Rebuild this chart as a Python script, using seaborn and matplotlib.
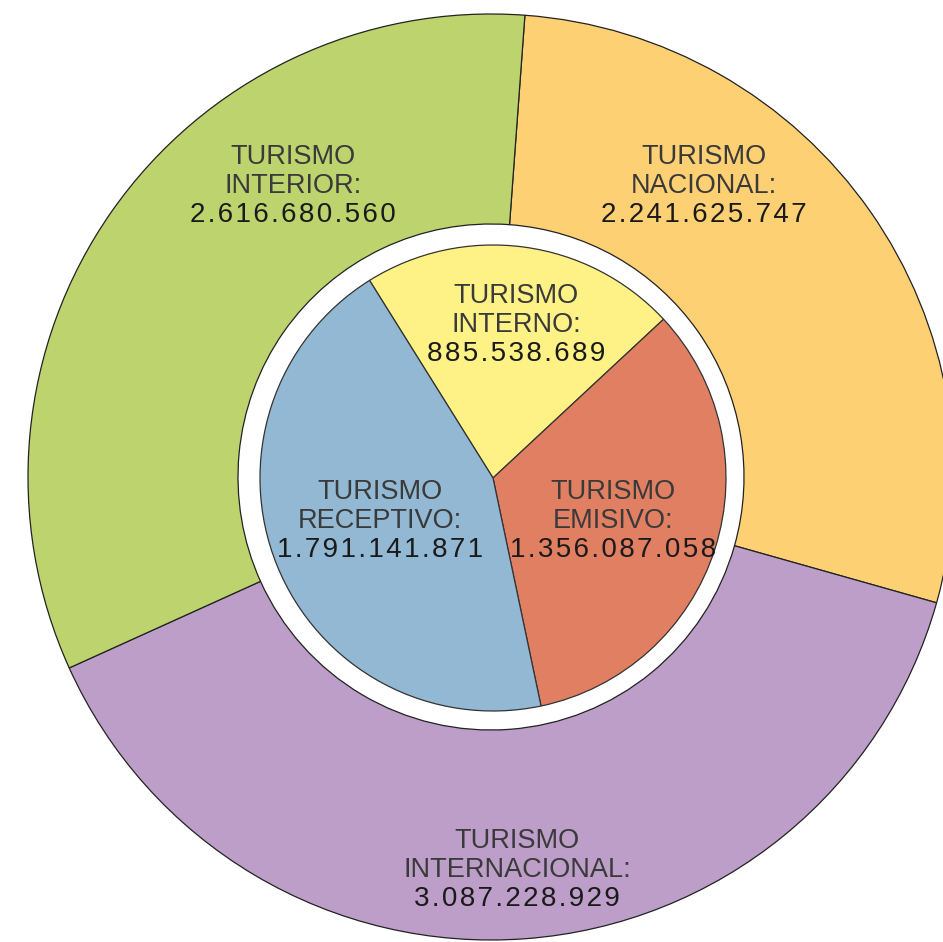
#!/usr/bin/env python3
"""
Turismo: nested pie (outer ring + inner pie), saved to out.png.
"""

import matplotlib
matplotlib.use('Agg')
import matplotlib.pyplot as plt
import seaborn as sns

# Data
outer_labels = ['TURISMO\nNACIONAL:', 'TURISMO\nINTERNACIONAL:', 'TURISMO\nINTERIOR:']
outer_values = [2241625747, 3087228929, 2616680560]
outer_colors = ['#FDD074', '#BC9EC8', '#BDD36E']

inner_labels = ['TURISMO\nINTERNO:', 'TURISMO\nEMISIVO:', 'TURISMO\nRECEPTIVO:']
inner_values = [885538689, 1356087058, 1791141871]
inner_colors = ['#FEF185', '#E07F62', '#92B8D3']

sns.set_style('white')
plt.rcParams['font.family'] = ['Liberation Sans', 'DejaVu Sans']

W, H = 943, 942
fig = plt.figure(figsize=(W / 100, H / 100), dpi=100)
ax = fig.add_axes([0, 0, 1, 1])

cx, cy = 491, H - 477


def fmt(v):
    # thousands with dots, a little extra tracking between characters
    return '\u200a'.join(f'{v:,}'.replace(',', '.'))


# Outer ring
ax.pie(outer_values, colors=outer_colors, radius=463, center=(cx, cy),
       startangle=85.8, counterclock=False, frame=True,
       wedgeprops=dict(width=210, edgecolor='#222222', linewidth=0.9))

# Inner pie
ax.pie(inner_values, colors=inner_colors, radius=233, center=(cx + 2, cy - 1),
       startangle=122, counterclock=False, frame=True,
       wedgeprops=dict(edgecolor='#333333', linewidth=0.9))

# Label positions (pixel position of the middle line)
outer_pos = [(704, 186), (517, 870), (293, 186)]
inner_pos = [(516, 325), (613, 521), (380, 521)]

for labels, values, pos in [(outer_labels, outer_values, outer_pos),
                            (inner_labels, inner_values, inner_pos)]:
    for lab, val, (px, py) in zip(labels, values, pos):
        first, second = lab.split('\n')
        ax.text(px, H - py + 29, first, ha='center', va='center',
                fontsize=19.5, color='#3a3a3a')
        ax.text(px, H - py, second, ha='center', va='center',
                fontsize=19.5, color='#3a3a3a')
        ax.text(px, H - py - 29, fmt(val), ha='center', va='center',
                fontsize=20, color='#1a1a1a')

ax.set_xlim(0, W)
ax.set_ylim(0, H)
ax.set_aspect('equal')
ax.axis('off')

plt.savefig('out.png', dpi=100)
plt.close()
